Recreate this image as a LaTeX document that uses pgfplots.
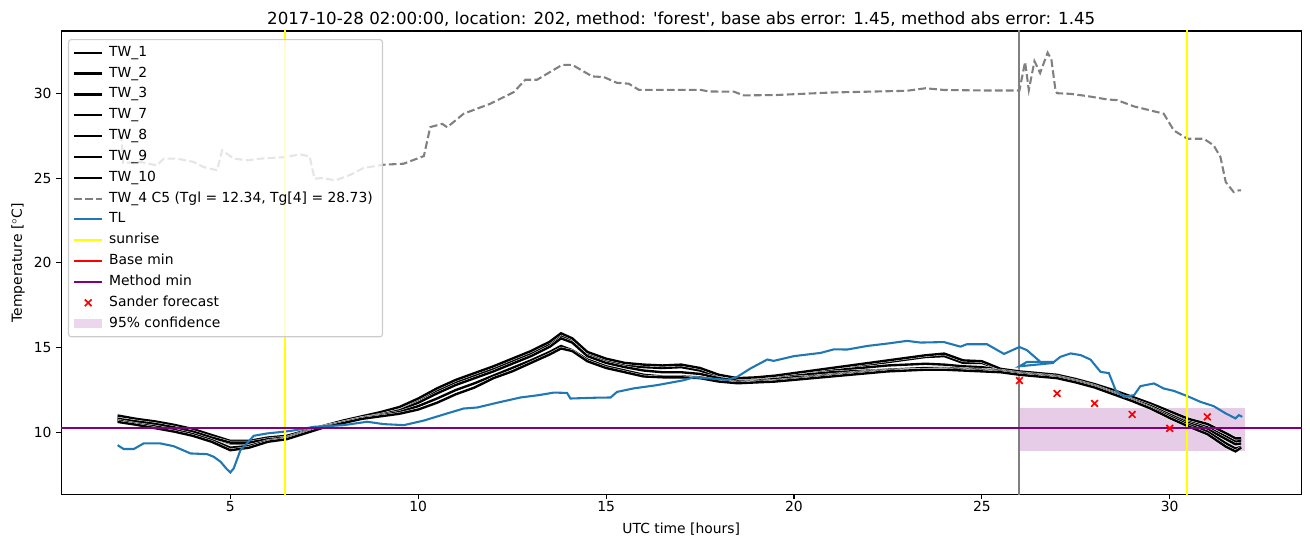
\documentclass[border=0pt]{standalone}
\usepackage{fontspec}
\setmainfont{DejaVu Sans}
\usepackage{pgfplots}
\pgfplotsset{compat=1.18}
\usepackage{pgfplotstable}
\definecolor{mplblue}{RGB}{31,119,180}
\definecolor{mplgray}{RGB}{128,128,128}
\definecolor{mplpurple}{RGB}{128,0,128}
\definecolor{mplyellow}{RGB}{255,255,0}
\definecolor{mplred}{RGB}{255,0,0}
\definecolor{lgray}{RGB}{204,204,204}
\definecolor{confpurple}{RGB}{230,204,230}

\pgfplotstableread{
x a b c d e f g
2 10.95 10.85 10.75 11.0 10.8 10.7 10.62
2.5 10.75 10.7 10.6 10.8 10.65 10.5 10.45
3 10.6 10.55 10.45 10.65 10.5 10.35 10.25
3.5 10.4 10.35 10.25 10.45 10.3 10.15 10.05
4 10.15 10.1 10.0 10.2 10.05 9.9 9.8
4.5 9.8 9.75 9.7 9.85 9.7 9.55 9.45
5 9.45 9.4 9.35 9.5 9.4 9.1 8.95
5.5 9.45 9.4 9.35 9.5 9.4 9.2 9.1
6 9.65 9.6 9.55 9.7 9.6 9.5 9.45
6.5 9.75 9.7 9.65 9.8 9.7 9.65 9.6
7 10.1 10.05 10.0 10.1 10.05 10.0 9.95
7.5 10.4 10.35 10.35 10.4 10.35 10.35 10.3
8 10.65 10.6 10.6 10.7 10.6 10.6 10.55
8.5 10.95 10.9 10.85 10.95 10.85 10.85 10.8
9 11.15 11.1 11.05 11.2 11.05 11.0 10.95
9.5 11.45 11.4 11.35 11.5 11.3 11.2 11.1
10 11.95 11.9 11.85 12.0 11.75 11.55 11.35
10.5 12.55 12.5 12.45 12.6 12.3 12.0 11.75
11 13.05 13.0 12.95 13.1 12.8 12.5 12.25
11.5 13.45 13.4 13.35 13.5 13.2 12.9 12.65
12 13.85 13.8 13.75 13.9 13.6 13.35 13.2
12.5 14.3 14.25 14.2 14.35 14.05 13.8 13.6
13 14.75 14.7 14.65 14.8 14.5 14.25 14.1
13.5 15.3 15.25 15.2 15.35 15.05 14.75 14.6
13.8 15.8 15.75 15.7 15.85 15.55 15.1 14.95
14.1 15.5 15.45 15.4 15.55 15.3 14.85 14.8
14.5 14.7 14.65 14.6 14.75 14.5 14.3 14.2
15 14.3 14.25 14.2 14.35 14.1 13.9 13.8
15.5 14.05 14.0 13.95 14.1 13.85 13.65 13.55
16 13.95 13.9 13.85 14.0 13.65 13.4 13.3
16.5 13.9 13.85 13.8 13.95 13.55 13.3 13.25
17 13.95 13.9 13.85 14.0 13.55 13.3 13.25
17.5 13.75 13.7 13.65 13.8 13.45 13.25 13.2
18 13.35 13.3 13.25 13.4 13.2 13.05 13.0
18.5 13.15 13.1 13.05 13.2 13.05 12.95 12.9
19 13.2 13.15 13.1 13.25 13.05 13.0 12.95
19.5 13.35 13.3 13.25 13.35 13.15 13.05 13.0
20 13.45 13.4 13.35 13.5 13.25 13.15 13.1
20.5 13.55 13.5 13.45 13.65 13.3 13.25 13.2
21 13.7 13.65 13.55 13.8 13.4 13.35 13.3
21.5 13.85 13.75 13.6 13.95 13.5 13.45 13.4
22 14.0 13.85 13.65 14.1 13.6 13.55 13.5
22.5 14.15 13.95 13.7 14.25 13.7 13.65 13.6
23 14.3 14.0 13.7 14.4 13.75 13.7 13.65
23.5 14.45 14.05 13.75 14.55 13.8 13.7 13.7
24 14.5 14.0 13.75 14.65 13.8 13.75 13.7
24.5 14.1 13.9 13.7 14.25 13.75 13.7 13.65
25 14.1 13.85 13.7 14.2 13.7 13.65 13.6
25.5 13.7 13.7 13.65 13.75 13.65 13.6 13.55
26 13.55 13.55 13.5 13.6 13.5 13.45 13.4
26.5 13.45 13.45 13.4 13.5 13.4 13.35 13.3
27 13.35 13.3 13.3 13.4 13.3 13.25 13.2
27.5 13.1 13.1 13.05 13.15 13.05 13.0 12.95
28 12.8 12.8 12.75 12.85 12.75 12.7 12.65
28.5 12.45 12.4 12.35 12.5 12.35 12.3 12.25
29 12.05 12.0 11.95 12.1 11.95 11.9 11.85
29.5 11.65 11.6 11.55 11.7 11.55 11.45 11.4
30 11.2 11.15 11.1 11.25 11.05 10.95 10.85
30.5 10.75 10.7 10.65 10.8 10.55 10.45 10.35
31 10.45 10.4 10.3 10.5 10.2 10.05 9.9
31.5 9.9 9.85 9.75 9.95 9.6 9.35 9.15
31.75 9.6 9.55 9.45 9.65 9.3 9.05 8.88
31.9 9.6 9.55 9.5 9.65 9.35 9.15 9.1
}\twtable

\begin{document}
\begin{tikzpicture}
\useasboundingbox (0,0) rectangle (943.2pt,393.8pt);
\begin{axis}[
  at={(44.1pt,37.9pt)}, anchor=south west,
  scale only axis, width=892.8pt, height=333.6pt,
  xmin=0.5, xmax=33.5, ymin=6.35, ymax=33.68,
  xtick={5,10,15,20,25,30}, ytick={10,15,20,25,30},
  xtick pos=left, ytick pos=left,
  tick align=outside, major tick length=3.5pt,
  every tick/.style={black, line width=0.8pt},
  axis line style={line width=0.8pt},
  ticklabel style={font=\fontsize{10}{12}\selectfont},
  xticklabel style={yshift=2pt},
  /pgf/number format/assume math mode=true,
  title={2017-10-28 02:00:00, location: 202, method: \textquotesingle forest\textquotesingle, base abs error: 1.45, method abs error: 1.45},
  title style={font=\fontsize{12}{14}\selectfont, at={(axis description cs:0.5,1)}, anchor=base, yshift=-1.6pt},
  xlabel={UTC time [hours]},
  ylabel={Temperature [$^\circ$C]},
  xlabel style={font=\fontsize{10}{12}\selectfont, at={(axis description cs:0.5,-0.075)}, anchor=center},
  ylabel style={font=\fontsize{10}{12}\selectfont, at={(axis description cs:-0.0348,0.5)}, anchor=center},
  legend image code/.code={\draw[mark repeat=2,mark phase=2,#1] plot coordinates {(0pt,0pt) (10pt,0pt) (20pt,0pt)};},
  legend cell align=left,
  legend style={at={(axis description cs:0.0054,0.9826)}, anchor=north west,
    draw=lgray, fill=white, fill opacity=0.8, text opacity=1, rounded corners=2pt,
    line width=0.8pt, inner xsep=3pt, inner ysep=2pt,
    font=\fontsize{10}{12}\selectfont,
    nodes={inner xsep=4pt, inner ysep=2.5pt, text height=7.5pt, text depth=2.5pt}},
]
% confidence band
\addplot[draw=none, fill=mplpurple, fill opacity=0.2, forget plot] coordinates {(26,8.92) (32,8.92) (32,11.43) (26,11.43)} -- cycle;
% grey vertical
\addplot[mplgray, line width=1.5pt, forget plot] coordinates {(26,0) (26,40)};

\addplot[black, line width=1.7pt, preaction={draw=white, line width=2.3pt}] table[x=x, y=a] {\twtable};
\addlegendentry{TW\_1}
\addplot[black, line width=1.7pt, preaction={draw=white, line width=2.3pt}] table[x=x, y=b] {\twtable};
\addlegendentry{TW\_2}
\addplot[black, line width=1.7pt, preaction={draw=white, line width=2.3pt}] table[x=x, y=c] {\twtable};
\addlegendentry{TW\_3}
\addplot[black, line width=1.7pt, preaction={draw=white, line width=2.3pt}] table[x=x, y=d] {\twtable};
\addlegendentry{TW\_7}
\addplot[black, line width=1.7pt, preaction={draw=white, line width=2.3pt}] table[x=x, y=e] {\twtable};
\addlegendentry{TW\_8}
\addplot[black, line width=1.7pt, preaction={draw=white, line width=2.3pt}] table[x=x, y=f] {\twtable};
\addlegendentry{TW\_9}
\addplot[black, line width=1.7pt, preaction={draw=white, line width=2.3pt}] table[x=x, y=g] {\twtable};
\addlegendentry{TW\_10}

\addplot[mplgray, line width=1.5pt, dash pattern=on 5.5pt off 2.4pt] coordinates {
(2.0,27.45) (2.1,27.4) (2.15,25.9) (2.6,25.95) (3.05,25.75) (3.23,26.15) (3.58,26.15) (4.03,25.95) (4.29,25.65) (4.65,25.46) (4.78,26.64) (5.09,26.15) (5.45,26.05) (5.8,26.15) (6.46,26.24) (6.86,26.4) (7.11,26.28) (7.24,24.97) (7.44,25.0) (7.8,24.87) (8.2,25.2) (8.55,25.6) (9.08,25.79) (9.61,25.85) (10.15,26.3) (10.32,28.01) (10.64,28.2) (10.77,28.0) (11.21,28.8) (11.92,29.39) (12.54,30.07) (12.85,30.8) (13.16,30.8) (13.83,31.68) (14.1,31.68) (14.63,31.0) (14.94,30.96) (15.29,30.62) (15.6,30.57) (15.87,30.21) (17.51,30.21) (17.73,30.11) (18.4,30.1) (18.66,29.88) (19.5,29.9) (20.0,29.95) (20.5,30.0) (21.0,30.05) (22.0,30.1) (23.0,30.15) (23.5,30.3) (24.0,30.2) (25.0,30.17) (26.0,30.17) (26.15,31.85) (26.25,30.2) (26.4,31.9) (26.55,31.2) (26.75,32.4) (26.85,32.0) (26.96,30.17) (27.0,30.01) (27.36,29.97) (27.8,29.84) (28.34,29.64) (28.6,29.6) (29.05,29.23) (29.49,28.99) (29.84,28.8) (30.11,27.81) (30.47,27.32) (30.91,27.32) (31.17,26.93) (31.35,26.24) (31.49,24.77) (31.7,24.18) (31.84,24.28) (31.9,24.28)
};
\addlegendentry{TW\_4 C5 (Tgl = 12.34, Tg[4] = 28.73)}

\addplot[mplblue, line width=1.5pt] coordinates {
(2.0,9.25) (2.16,9.02) (2.43,9.02) (2.69,9.35) (3.14,9.35) (3.49,9.19) (3.94,8.76) (4.38,8.72) (4.56,8.56) (4.74,8.27) (4.9,7.85) (5.0,7.64) (5.09,7.88) (5.27,8.96) (5.4,9.25) (5.62,9.8) (5.98,9.94) (6.24,10.0) (6.6,10.09) (6.86,10.18) (7.22,10.33) (8.02,10.43) (8.64,10.63) (9.08,10.49) (9.62,10.43) (10.15,10.7) (10.77,11.12) (11.21,11.41) (11.57,11.47) (12.1,11.75) (12.72,12.06) (13.21,12.2) (13.61,12.35) (13.96,12.33) (14.05,12.0) (14.76,12.05) (15.12,12.06) (15.29,12.39) (15.74,12.6) (16.36,12.79) (17.07,13.08) (17.33,13.25) (17.78,13.18) (18.22,13.1) (18.49,13.28) (18.84,13.77) (19.29,14.3) (19.46,14.22) (20.0,14.5) (20.71,14.69) (21.06,14.9) (21.42,14.89) (21.95,15.1) (22.48,15.24) (23.01,15.4) (23.37,15.3) (23.99,15.33) (24.43,15.06) (24.6,15.2) (25.14,15.2) (25.59,14.63) (25.85,14.89) (26.0,15.04) (26.2,14.85) (26.56,14.16) (26.92,14.1) (26.0,13.9) (26.2,14.16) (26.92,14.16) (27.09,14.46) (27.36,14.66) (27.63,14.56) (27.89,14.3) (28.16,13.57) (28.38,13.5) (28.56,12.49) (28.78,12.1) (29.05,12.2) (29.22,12.73) (29.58,12.89) (29.84,12.59) (30.11,12.45) (30.47,12.14) (30.82,11.8) (31.17,11.55) (31.49,11.12) (31.75,10.83) (31.84,11.02) (31.93,10.92)
};
\addlegendentry{TL}

\addplot[mplyellow, line width=1.5pt] coordinates {(6.46,0) (6.46,40)};
\addlegendentry{sunrise}
\addplot[mplyellow, line width=1.5pt, forget plot] coordinates {(30.46,0) (30.46,40)};

\addplot[mplred, line width=1.5pt] coordinates {(0,10.25) (40,10.25)};
\addlegendentry{Base min}
\addplot[mplpurple, line width=1.5pt] coordinates {(0,10.25) (40,10.25)};
\addlegendentry{Method min}

\addplot[only marks, mark=x, mark size=3.4pt, mplred, mark options={line width=1.2pt}] coordinates {
(26,13.06) (27,12.30) (28,11.71) (29,11.06) (30,10.24) (31,10.92)
};
\addlegendentry{Sander forecast}

\addlegendimage{legend image code/.code={\fill[draw=none, fill=confpurple, sharp corners] (0pt,-3.5pt) rectangle (20pt,3.5pt);}}
\addlegendentry{95\% confidence}
\end{axis}
\end{tikzpicture}
\end{document}
